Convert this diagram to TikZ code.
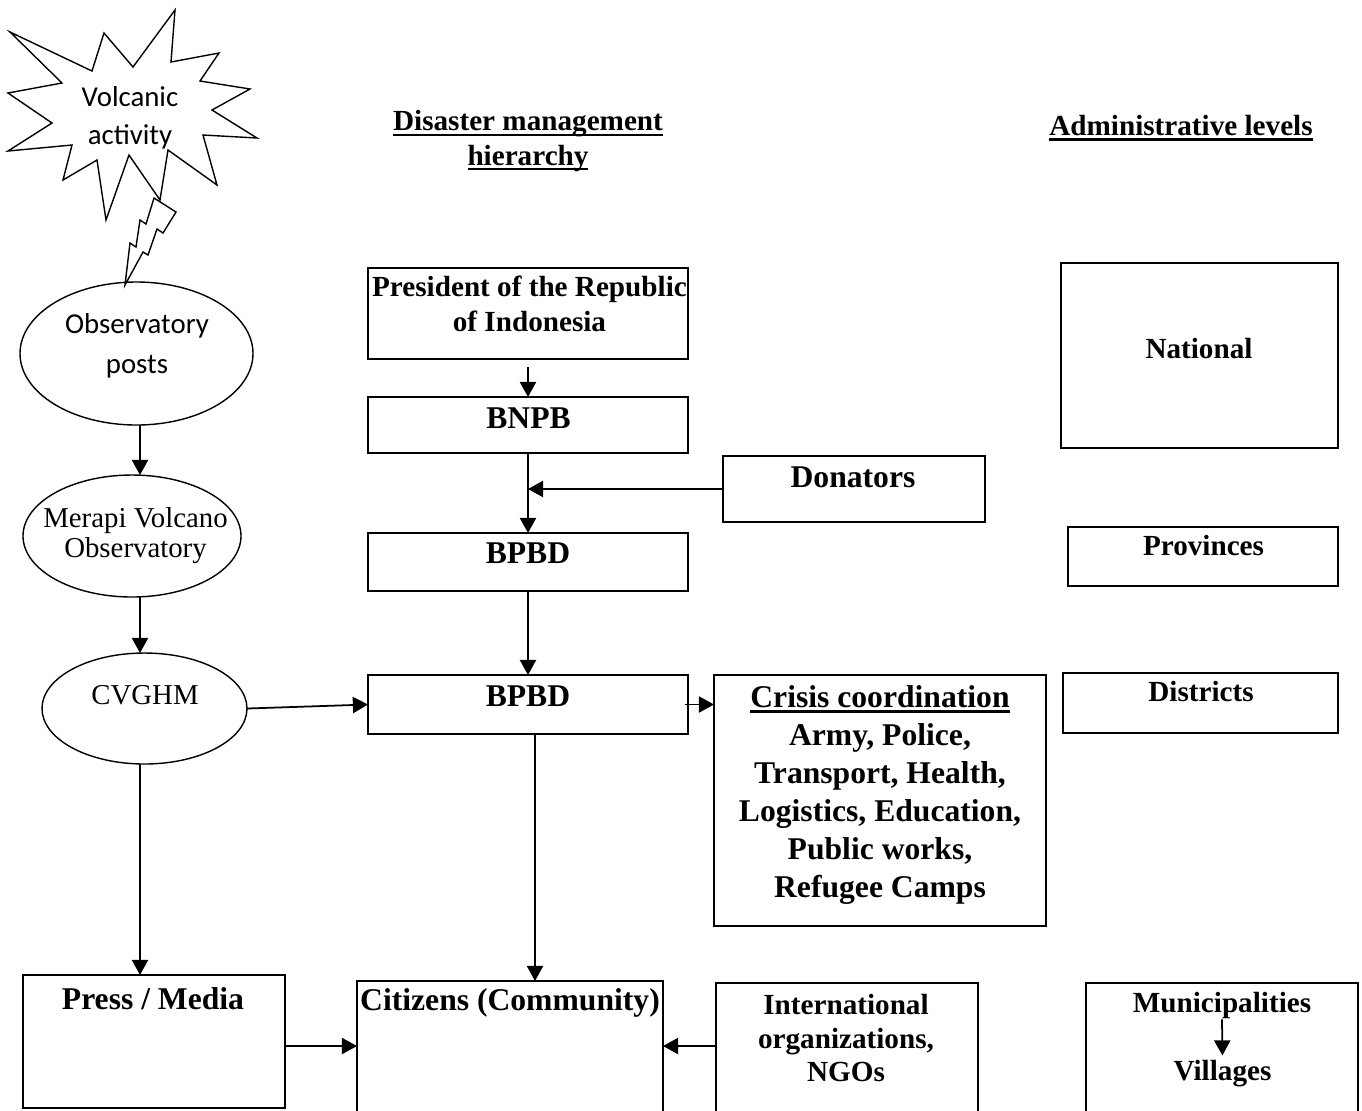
\documentclass[tikz,border=0pt]{standalone}
\usepackage{fontspec}
\setmainfont{Liberation Serif}
\newfontfamily\calibri{Carlito}
\newcommand{\ulbar}[1]{\setbox0\hbox{#1}\rlap{\rule[-1.4pt]{\wd0}{0.6pt}}\box0}
\usetikzlibrary{shapes.geometric, arrows.meta, positioning, calc}

\begin{document}
\begin{tikzpicture}[
  box/.style={
    rectangle,
    draw,
    line width=0.55pt,
    inner sep=0pt,
    outer sep=0pt
  },
  oval/.style={
    ellipse,
    draw,
    line width=0.4pt,
    inner sep=0pt,
    outer sep=0pt
  },
  txt/.style={
    align=center,
    inner sep=0pt,
    font=\fontsize{9}{#1}\selectfont\bfseries
  },
  txt/.default=10.8,
  lvl/.style={
    align=center,
    inner sep=0pt,
    font=\fontsize{8.3}{#1}\selectfont\bfseries
  },
  lvl/.default=9.6,
  cal/.style={
    align=center,
    inner sep=0pt,
    font=\fontsize{8.2}{#1}\selectfont\calibri
  },
  cal/.default=10.8,
  rom/.style={
    align=center,
    inner sep=0pt,
    font=\fontsize{8.2}{#1}\selectfont
  },
  rom/.default=8.5,
  arr/.style={
    -{Triangle[length=4.3pt,width=4.6pt]},
    line width=0.5pt
  }
]
  \useasboundingbox (0,0) rectangle (13.62,-11.10);

  % volcanic activity
  \draw[line width=0.4pt] (0.10,-0.32) -- (0.92,-0.71) -- (1.04,-0.33) -- (1.33,-0.67)
    -- (1.75,-0.10) -- (1.71,-0.62) -- (2.19,-0.53) -- (2.00,-0.81) -- (2.50,-0.89)
    -- (2.12,-1.10) -- (2.57,-1.38) -- (2.03,-1.35) -- (2.17,-1.85) -- (1.68,-1.50)
    -- (1.60,-2.00) -- (1.29,-1.55) -- (1.06,-2.20) -- (0.97,-1.60) -- (0.63,-1.80)
    -- (0.72,-1.45) -- (0.08,-1.51) -- (0.52,-1.23) -- (0.08,-0.93) -- (0.62,-0.83)
    -- cycle;
  \draw[line width=0.4pt, fill=white] (1.54,-1.98) -- (1.76,-2.12) -- (1.63,-2.33)
    -- (1.57,-2.29) -- (1.48,-2.55) -- (1.43,-2.52) -- (1.25,-2.85) -- (1.30,-2.43)
    -- (1.36,-2.47) -- (1.40,-2.20) -- (1.46,-2.24) -- cycle;
  \node[cal] (volc) at (1.30,-1.175) {Volcanic\\activity};

  % observation chain
  \coordinate (spine) at (1.40,0);
  \node[oval, minimum width=2.33cm, minimum height=1.43cm] (obs) at (1.365,-3.535) {};
  \node[cal=11.4] (obsT) at (1.37,-3.46) {Observatory\\posts};
  \node[oval, minimum width=2.18cm, minimum height=1.22cm] (mer) at (1.32,-5.36) {};
  \node[rom] (merT) at (1.355,-5.355) {Merapi Volcano\\Observatory};
  \node[oval, minimum width=2.05cm, minimum height=1.11cm] (cvg) at (1.445,-7.085) {};
  \node[rom] (cvgT) at (1.45,-6.95) {CVGHM};
  \node[box, minimum width=2.62cm, minimum height=1.33cm] (press) at (1.54,-10.415) {};
  \node[txt] (pressT) at (1.53,-9.99) {Press / Media};

  % headings
  \node[lvl=9.7] (hdrA) at (5.28,-1.41) {\ulbar{Disaster management}\\\ulbar{hierarchy}};
  \node[lvl] (hdrB) at (11.81,-1.28) {\ulbar{Administrative levels}};

  % disaster management hierarchy
  \node[box, minimum width=3.20cm, minimum height=0.91cm] (pres) at (5.28,-3.135) {};
  \node[lvl=10] (presT) at (5.295,-3.04) {President of the Republic\\of Indonesia};
  \node[box, minimum width=3.20cm, minimum height=0.56cm] (bnpb) at (5.28,-4.25) {};
  \node[txt] (bnpbT) at (5.285,-4.18) {BNPB};
  \node[box, minimum width=2.62cm, minimum height=0.66cm] (don) at (8.54,-4.89) {};
  \node[txt] (donT) at (8.53,-4.77) {Donators};
  \node[box, minimum width=3.20cm, minimum height=0.58cm] (bpbdA) at (5.28,-5.62) {};
  \node[txt] (bpbdAT) at (5.28,-5.53) {BPBD};
  \node[box, minimum width=3.20cm, minimum height=0.59cm] (bpbdB) at (5.28,-7.045) {};
  \node[txt] (bpbdBT) at (5.28,-6.96) {BPBD};
  \node[box, minimum width=3.32cm, minimum height=2.51cm] (crisis) at (8.80,-8.005) {};
  \node[txt] (crisisT) at (8.80,-7.95) {\ulbar{Crisis coordination}\\Army, Police,\\Transport, Health,\\Logistics, Education,\\Public works,\\Refugee Camps};
  \node[box, minimum width=3.06cm, minimum height=1.44cm] (citz) at (5.10,-10.53) {};
  \node[txt] (citzT) at (5.10,-10.03) {Citizens (Community)};
  \node[box, minimum width=2.62cm, minimum height=1.42cm] (intl) at (8.47,-10.54) {};
  \node[lvl=9.4] (intlT) at (8.46,-10.38) {International\\organizations,\\NGOs};

  % administrative levels
  \node[box, minimum width=2.77cm, minimum height=1.85cm] (natl) at (11.995,-3.555) {};
  \node[lvl] (natlT) at (11.99,-3.49) {National};
  \node[box, minimum width=2.70cm, minimum height=0.59cm] (prov) at (12.03,-5.565) {};
  \node[lvl] (provT) at (12.035,-5.46) {Provinces};
  \node[box, minimum width=2.75cm, minimum height=0.60cm] (dist) at (12.005,-7.03) {};
  \node[lvl] (distT) at (12.01,-6.92) {Districts};
  \node[box, minimum width=2.72cm, minimum height=1.42cm] (muni) at (12.22,-10.54) {};
  \node[lvl] (muniT) at (12.22,-10.055) {Municipalities};
  \node[lvl] (villT) at (12.225,-10.735) {Villages};

  % connectors
  \draw[arr] (obs.south -| spine) -- (mer.north -| spine);
  \draw[arr] (mer.south -| spine) -- (cvg.north -| spine);
  \draw[arr] (cvg.south -| spine) -- (press.north -| spine);
  \draw[arr] (cvg.east) -- (bpbdB.west);
  \draw[arr, shorten <=0.08cm] (pres.south) -- (bnpb.north);
  \draw[arr] (bnpb.south) -- (bpbdA.north);
  \draw[arr] (don.west) -- (don.west -| bnpb.south);
  \draw[arr] (bpbdA.south) -- (bpbdB.north);
  \draw[arr] ([xshift=-0.03cm]bpbdB.east) -- (bpbdB.east -| crisis.west);
  \draw[arr] ([xshift=0.07cm]bpbdB.south) -- ([xshift=0.07cm]bpbdB.south |- citz.north);
  \draw[arr] (press.east |- 0,-10.46) -- (citz.west |- 0,-10.46);
  \draw[arr] (intl.west |- 0,-10.46) -- (citz.east |- 0,-10.46);
  \draw[arr, shorten >=0.04cm] (muniT.south) -- (villT.north);
\end{tikzpicture}
\end{document}
